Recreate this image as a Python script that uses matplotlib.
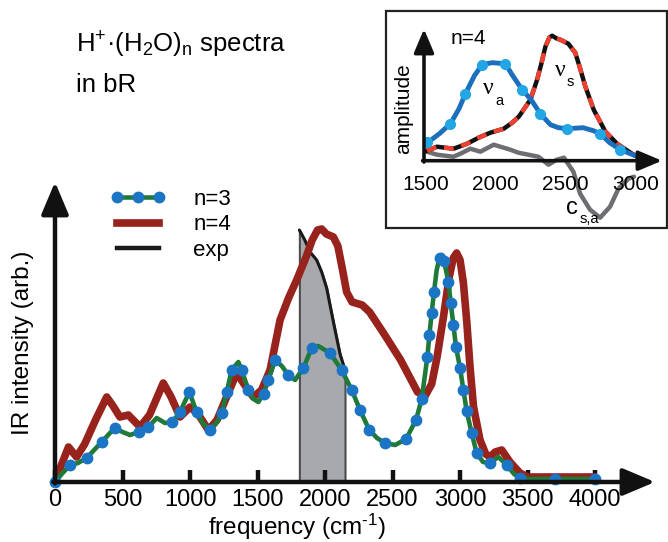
import numpy as np
import matplotlib
matplotlib.use('Agg')
import matplotlib.pyplot as plt
from matplotlib.lines import Line2D
from matplotlib.patches import Rectangle

plt.rcParams['font.family'] = ['Liberation Sans', 'DejaVu Sans']
plt.rcParams['mathtext.fontset'] = 'custom'
plt.rcParams['mathtext.rm'] = 'Liberation Sans'
plt.rcParams['mathtext.default'] = 'regular'

## main panel: IR spectra (arb. units)
n3_freq = [0, 50, 111, 170, 235, 290, 346, 400, 444, 500, 556, 620, 691, 753,
           815, 870, 926, 995, 1049, 1100, 1148, 1200, 1235, 1272, 1309, 1358,
           1383, 1432, 1470, 1506, 1545, 1580, 1630, 1680, 1728, 1778, 1840,
           1901, 1950, 2037, 2123, 2198, 2259, 2328, 2385, 2444, 2520, 2600,
           2674, 2716, 2758, 2773, 2790, 2807, 2827, 2848, 2866, 2882, 2914,
           2931, 2951, 2970, 3000, 3025, 3049, 3086, 3123, 3170, 3222, 3284,
           3346, 3400, 3444, 3500, 3700, 4000]
n3_int = [0.0, 0.08, 0.17, 0.19, 0.24, 0.32, 0.40, 0.48, 0.54, 0.50, 0.47, 0.50,
          0.55, 0.64, 0.59, 0.60, 0.70, 0.90, 0.70, 0.58, 0.52, 0.60, 0.69, 0.90,
          1.12, 1.20, 1.12, 0.92, 0.83, 0.80, 0.88, 1.02, 1.22, 1.16, 1.07, 1.02,
          1.14, 1.34, 1.36, 1.29, 1.12, 0.92, 0.72, 0.52, 0.44, 0.39, 0.37, 0.43,
          0.62, 0.83, 1.25, 1.47, 1.69, 1.90, 2.12, 2.24, 2.27, 2.21, 2.00, 1.79,
          1.57, 1.35, 1.14, 0.92, 0.71, 0.49, 0.29, 0.20, 0.19, 0.25, 0.17, 0.08,
          0.04, 0.03, 0.03, 0.03]

n4_freq = [0, 50, 100, 160, 220, 300, 383, 430, 481, 543, 630, 700, 802, 860,
           926, 1000, 1060, 1136, 1200, 1280, 1346, 1400, 1469, 1530, 1593,
           1667, 1730, 1790, 1860, 1905, 1945, 1975, 2010, 2062, 2095, 2130,
           2160, 2200, 2275, 2330, 2433, 2560, 2685, 2741, 2790, 2830, 2877,
           2920, 2950, 2975, 3000, 3025, 3050, 3074, 3100, 3148, 3190, 3222,
           3260, 3309, 3370, 3444, 3500, 4000]
n4_int = [0.0, 0.18, 0.35, 0.25, 0.38, 0.62, 0.85, 0.76, 0.65, 0.67, 0.55, 0.67,
          0.99, 0.85, 0.65, 0.75, 0.68, 0.52, 0.62, 0.88, 1.09, 0.98, 0.85, 0.92,
          1.12, 1.62, 1.84, 2.02, 2.25, 2.42, 2.52, 2.53, 2.48, 2.45, 2.36, 2.12,
          1.90, 1.80, 1.77, 1.70, 1.49, 1.22, 0.90, 0.86, 0.98, 1.25, 1.65, 2.05,
          2.24, 2.29, 2.22, 1.99, 1.60, 1.15, 0.75, 0.42, 0.28, 0.25, 0.30, 0.32,
          0.20, 0.09, 0.05, 0.05]

exp_freq = [1810, 1850, 1889, 1938, 1975, 2012, 2062, 2111, 2148]
exp_int = [2.52, 2.42, 2.30, 2.22, 2.10, 1.94, 1.60, 1.28, 1.12]

freq_ticks = [0, 500, 1000, 1500, 2000, 2500, 3000, 3500, 4000]

## inset: n=4 amplitudes
va_freq = [1512, 1524, 1600, 1679, 1740, 1786, 1850, 1905, 1976, 2071, 2119,
           2191, 2255, 2321, 2393, 2450, 2512, 2626, 2700, 2750, 2816, 2893,
           2964, 3000]
va_amp = [0.19, 0.19, 0.27, 0.37, 0.52, 0.67, 0.85, 0.96, 0.98, 0.97, 0.86,
          0.71, 0.61, 0.47, 0.36, 0.33, 0.32, 0.33, 0.30, 0.27, 0.18, 0.11,
          0.07, 0.05]

vs_freq = [1512, 1583, 1640, 1702, 1798, 1880, 1964, 2060, 2120, 2167, 2250,
           2298, 2330, 2357, 2385, 2405, 2440, 2464, 2521, 2570, 2595, 2643,
           2702, 2786, 2869, 2976, 3000]
vs_amp = [0.10, 0.14, 0.13, 0.12, 0.17, 0.23, 0.28, 0.32, 0.38, 0.44, 0.61,
          0.81, 0.98, 1.14, 1.23, 1.25, 1.22, 1.21, 1.17, 1.08, 0.97, 0.74,
          0.51, 0.29, 0.17, 0.07, 0.05]

csa_freq = [1512, 1583, 1700, 1750, 1821, 1893, 1988, 2107, 2164, 2307, 2379,
            2438, 2490, 2557, 2605, 2676, 2748, 2819, 2879, 2950, 2990]
csa_amp = [0.09, 0.06, 0.04, 0.07, 0.12, 0.09, 0.16, 0.11, 0.08, 0.04, -0.04,
           0.01, 0.03, -0.11, -0.33, -0.49, -0.57, -0.46, -0.28, -0.18, -0.16]

inset_ticks = [1500, 2000, 2500, 3000]

W, H = 668, 542


def px(x, y):
    # pixel position (from top left) -> figure fraction
    return x / W, 1. - y / H


fig = plt.figure(figsize=(W / 100., H / 100.), dpi=100)

## main axes
ax = fig.add_axes([55 / W, 60 / H, 600 / W, 300 / H])
ax.set_xlim(0, 4444)
ax.set_ylim(0, 3.0)
for s in ax.spines.values():
    s.set_visible(False)
ax.patch.set_visible(False)

ax.fill_between([exp_freq[0]] + exp_freq + [exp_freq[-1]],
                [0] + exp_int + [0], 0,
                facecolor='#a7a9ac', edgecolor='#4d4d4f', lw=1.5, zorder=1)
ax.plot(exp_freq, exp_int, color='#1a1a1a', lw=2.2, zorder=2,
        solid_capstyle='round')
ax.plot(n4_freq, n4_int, color='#97231c', lw=5.5, zorder=3,
        solid_joinstyle='round', solid_capstyle='round')
ax.plot(n3_freq, n3_int, color='#1f7a3a', lw=3.3, zorder=4,
        marker='o', ms=7.5, mfc='#1b75c4', mec='#1b75c4', markevery=0.031,
        solid_joinstyle='round', clip_on=False)

ax.set_xticks(freq_ticks)
ax.set_xticklabels([str(t) for t in freq_ticks])
ax.set_yticks([])
ax.tick_params(axis='x', direction='in', length=9, width=3.2, pad=5,
               labelsize=17, color='#111111')

arr = dict(arrowstyle='-|>,head_length=0.9,head_width=0.38', lw=3.2,
           color='#111111', mutation_scale=22, shrinkA=0, shrinkB=0)
ax.annotate('', xy=(1, 0), xytext=(-0.003, 0), xycoords='axes fraction',
            arrowprops=arr, zorder=6)
ax.annotate('', xy=(0, 1), xytext=(0, -0.005), xycoords='axes fraction',
            arrowprops=arr, zorder=6)

fig.text(*px(297, 527), r'frequency (cm$^{\text{-}1}$)', fontsize=17.5,
         ha='center', va='center')
fig.text(*px(23, 343), 'IR intensity (arb.)', fontsize=17.5,
         ha='center', va='center', rotation=90)

fig.text(*px(76, 53), 'H$^{+}$\u00b7(H$_{2}$O)$_{n}$ spectra', fontsize=18.5,
         ha='left', va='baseline')
fig.text(*px(76, 92), 'in bR', fontsize=18.5, ha='left', va='baseline')

handles = [Line2D([], [], color='#1f7a3a', lw=3.3, marker='o', ms=7.5,
                  mfc='#1b75c4', mec='#1b75c4'),
           Line2D([], [], color='#97231c', lw=5.5),
           Line2D([], [], color='#1a1a1a', lw=3.2)]
ax.legend(handles, ['n=3', 'n=4', 'exp'], loc='upper left',
          bbox_to_anchor=px(110, 189), bbox_transform=fig.transFigure,
          frameon=False, borderpad=0, borderaxespad=0, numpoints=3,
          handlelength=2.5, handletextpad=1.25, labelspacing=0.2, fontsize=16)

## inset
fig.patches.append(Rectangle(px(386, 228), 281 / W, 217 / H,
                             transform=fig.transFigure, fill=False,
                             lw=1.6, edgecolor='#222222'))

axi = fig.add_axes([424 / W, (H - 160.7) / H, 238 / W, 131.7 / H])
axi.set_xlim(1490, 3190)
axi.set_ylim(0, 1.317)
for s in axi.spines.values():
    s.set_visible(False)
axi.patch.set_visible(False)

axi.plot(csa_freq, csa_amp, color='#6d6e71', lw=3.2, clip_on=False, zorder=1,
         solid_joinstyle='round', solid_capstyle='round')
axi.plot(vs_freq, vs_amp, color='#111111', lw=3.2, zorder=2,
         solid_joinstyle='round')
axi.plot(vs_freq, vs_amp, color='#ef4130', lw=3.2, zorder=3,
         linestyle=(0, (2.2, 1.8)))
axi.plot(va_freq, va_amp, color='#1c6fbd', lw=3.5, zorder=4,
         marker='o', ms=7, mfc='#22a6e4', mec='#22a6e4', markevery=0.114,
         solid_joinstyle='round', solid_capstyle='round')

axi.set_xticks(inset_ticks)
axi.set_xticklabels([str(t) for t in inset_ticks])
axi.set_xticks([2000, 2500], minor=True)
axi.set_yticks([])
axi.tick_params(axis='x', which='major', length=0, pad=10, labelsize=15)
axi.tick_params(axis='x', which='minor', direction='in', length=7, width=3,
                color='#111111')

arr_i = dict(arrowstyle='-|>,head_length=0.9,head_width=0.38', lw=2.6,
             color='#111111', mutation_scale=16, shrinkA=0, shrinkB=0)
axi.annotate('', xy=(1, 0), xytext=(-0.006, 0), xycoords='axes fraction',
             arrowprops=arr_i, zorder=6)
axi.annotate('', xy=(0, 1), xytext=(0, -0.01), xycoords='axes fraction',
             arrowprops=arr_i, zorder=6)

fig.text(*px(468, 39), 'n=4', fontsize=15, ha='center', va='center')
fig.text(*px(404, 109), 'amplitude', fontsize=15, ha='center', va='center',
         rotation=90)
fig.text(*px(488, 89), '\u03bd', fontsize=17, family='Liberation Serif',
         ha='center', va='center')
fig.text(*px(499, 101), 'a', fontsize=10.5, ha='center', va='center')
fig.text(*px(560, 70), '\u03bd', fontsize=17, family='Liberation Serif',
         ha='center', va='center')
fig.text(*px(570, 82), 's', fontsize=10.5, ha='center', va='center')
fig.text(*px(572, 208), 'c', fontsize=17, ha='center', va='center')
fig.text(*px(589, 219), 's,a', fontsize=10.5, ha='center', va='center')

fig.savefig('out.png', dpi=100)
